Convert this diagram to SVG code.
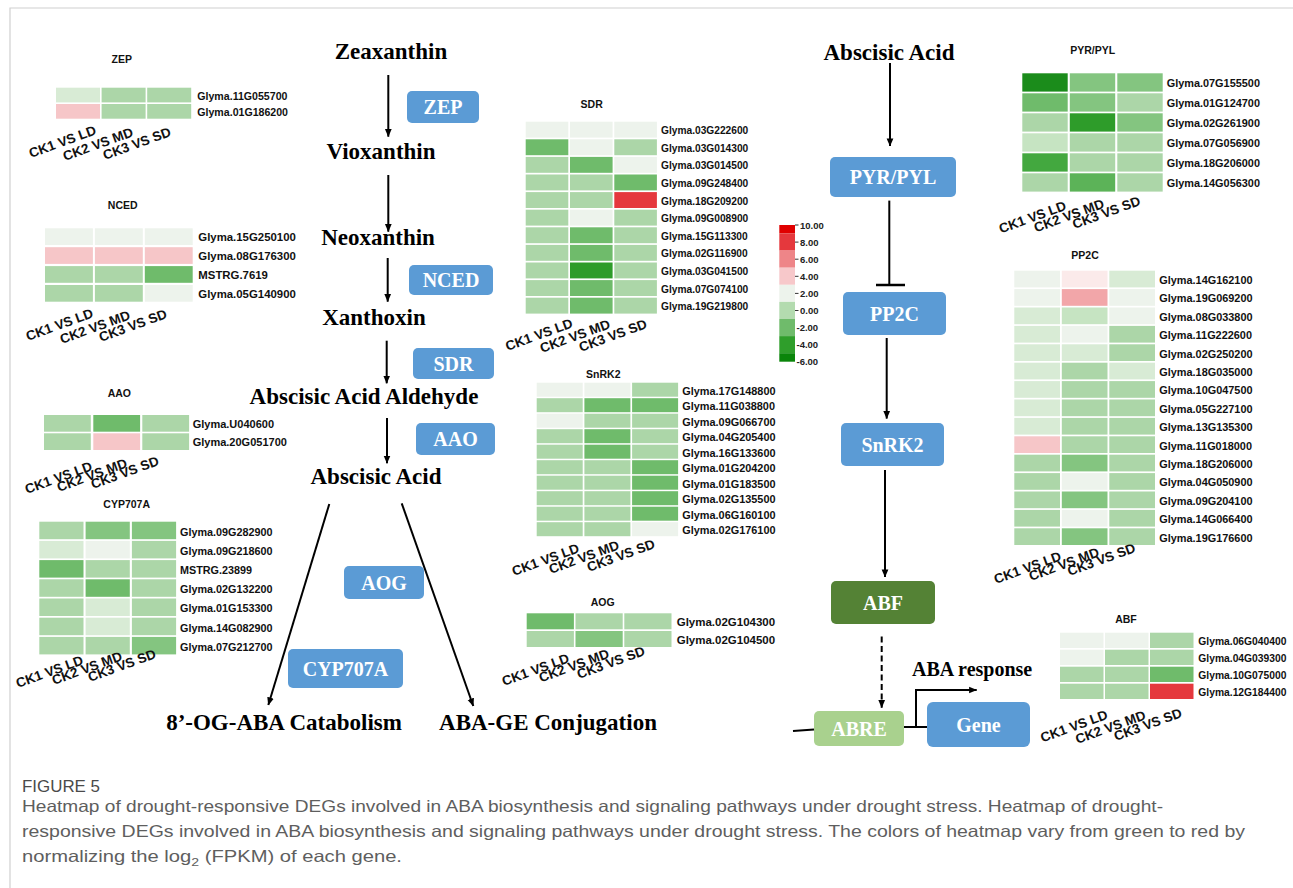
<svg xmlns="http://www.w3.org/2000/svg" width="1293" height="888" viewBox="0 0 1293 888">
<defs>
<marker id="ah" viewBox="0 0 10 10" refX="9.5" refY="5" markerWidth="8" markerHeight="8" markerUnits="userSpaceOnUse" orient="auto">
<path d="M0,0.8 L10,5 L0,9.2 z" fill="#000"/>
</marker>
<style>
.mol{font-family:"Liberation Serif","Times New Roman",serif;font-weight:bold;font-size:23px;fill:#000;text-anchor:middle}
.box{fill:#5b9bd5}
.btxt{font-family:"Liberation Serif","Times New Roman",serif;font-weight:bold;font-size:20px;fill:#fff;text-anchor:middle}
.ttl{font-family:"Liberation Sans",Arial,sans-serif;font-weight:bold;font-size:10.5px;fill:#111;text-anchor:middle}
.gn{font-family:"Liberation Sans",Arial,sans-serif;font-weight:bold;fill:#111}
.cl{font-family:"Liberation Sans",Arial,sans-serif;font-weight:bold;font-size:13.5px;fill:#111}
.cb{font-family:"Liberation Sans",Arial,sans-serif;font-weight:bold;font-size:9.5px;fill:#222}
.cap{font-family:"Liberation Sans",Arial,sans-serif;font-size:16.5px;fill:#5e5e5e}
.c0{fill:#edf3ec}.c1{fill:#d8ebd5}.c15{fill:#c6e4c2}.c2{fill:#acd6a8}.c3{fill:#84c580}.c4{fill:#6fbb6b}.c45{fill:#5cb358}.c5{fill:#43a83f}.c6{fill:#2e9c2a}.c7{fill:#1b8c1b}
.p0{fill:#fbeaea}.p1{fill:#f6c6c8}.p2{fill:#f2a6a9}.r{fill:#e5383d}
.ln{stroke:#000;stroke-width:2;fill:none}
</style>
</defs>
<rect width="1293" height="888" fill="#fff"/>
<path d="M10,888 V8 H1293" fill="none" stroke="#d0d0d0" stroke-width="1.2"/>

<!-- Left pathway molecules -->
<g id="zeaxanthin"><text class="mol" x="391" y="58.5">Zeaxanthin</text></g>
<g id="vioxanthin"><text class="mol" x="381" y="159">Vioxanthin</text></g>
<g id="neoxanthin"><text class="mol" x="378" y="245">Neoxanthin</text></g>
<g id="xanthoxin"><text class="mol" x="374" y="325">Xanthoxin</text></g>
<g id="aba-aldehyde"><text class="mol" x="364" y="404">Abscisic Acid Aldehyde</text></g>
<g id="aba-left"><text class="mol" x="376" y="484">Abscisic Acid</text></g>
<g id="catabolism"><text class="mol" x="284" y="730">8’-OG-ABA Catabolism</text></g>
<g id="conjugation"><text class="mol" x="548" y="730">ABA-GE Conjugation</text></g>

<!-- Enzyme boxes -->
<g id="box-zep"><rect class="box" x="407" y="91" width="72" height="32" rx="5"/><text class="btxt" x="443" y="114">ZEP</text></g>
<g id="box-nced"><rect class="box" x="409" y="265" width="84" height="30" rx="5"/><text class="btxt" x="451" y="287">NCED</text></g>
<g id="box-sdr"><rect class="box" x="413" y="348" width="81" height="31" rx="5"/><text class="btxt" x="453.5" y="370.5">SDR</text></g>
<g id="box-aao"><rect class="box" x="416" y="423" width="79" height="32" rx="5"/><text class="btxt" x="455.5" y="446">AAO</text></g>
<g id="box-aog"><rect class="box" x="344" y="566" width="80" height="33" rx="5"/><text class="btxt" x="384" y="589.5">AOG</text></g>
<g id="box-cyp"><rect class="box" x="288" y="649" width="115" height="39" rx="5"/><text class="btxt" x="345.5" y="675.5">CYP707A</text></g>

<!-- Right pathway -->
<g id="aba-right"><text class="mol" x="889" y="59.5">Abscisic Acid</text></g>
<g id="box-pyr"><rect class="box" x="830" y="157" width="126" height="40" rx="5"/><text class="btxt" x="893" y="184">PYR/PYL</text></g>
<g id="box-pp2c"><rect class="box" x="843" y="292" width="103" height="43" rx="5"/><text class="btxt" x="894.5" y="320.5">PP2C</text></g>
<g id="box-snrk2"><rect class="box" x="841" y="423" width="103" height="43" rx="5"/><text class="btxt" x="892.5" y="451.5">SnRK2</text></g>
<g id="box-abf"><rect x="831" y="581" width="104" height="43" rx="5" fill="#548235"/><text class="btxt" x="883" y="609.5">ABF</text></g>
<g id="box-abre"><rect x="814" y="711" width="90" height="35" rx="5" fill="#a9d18e"/><text class="btxt" x="859" y="735.5">ABRE</text></g>
<g id="box-gene"><rect class="box" x="927" y="702" width="103" height="45" rx="6"/><text class="btxt" x="978.5" y="731.5">Gene</text></g>
<g id="aba-response"><text class="mol" x="912" y="676" style="text-anchor:start;font-size:20px">ABA response</text></g>

<!-- Connectors -->
<g id="connectors">
<line class="ln" x1="388.3" y1="75" x2="388.3" y2="136.7" marker-end="url(#ah)"/>
<line class="ln" x1="388.3" y1="175" x2="388.3" y2="231.7" marker-end="url(#ah)"/>
<line class="ln" x1="387.7" y1="258" x2="387.7" y2="301.7" marker-end="url(#ah)"/>
<line class="ln" x1="386.7" y1="340.7" x2="386.7" y2="383.3" marker-end="url(#ah)"/>
<line class="ln" x1="387" y1="418" x2="387" y2="463.3" marker-end="url(#ah)"/>
<line class="ln" x1="329.3" y1="504" x2="268.3" y2="705" marker-end="url(#ah)"/>
<line class="ln" x1="401.7" y1="503.3" x2="473.3" y2="706" marker-end="url(#ah)"/>
<line class="ln" x1="890" y1="63" x2="890" y2="146" marker-end="url(#ah)"/>
<line class="ln" x1="889.3" y1="200.6" x2="889.3" y2="285"/>
<line class="ln" x1="876" y1="285" x2="905" y2="285" style="stroke-width:2.5"/>
<line class="ln" x1="886.7" y1="338" x2="886.7" y2="418.6" marker-end="url(#ah)"/>
<line class="ln" x1="885" y1="470" x2="885" y2="577" marker-end="url(#ah)"/>
<line class="ln" x1="881.7" y1="636.6" x2="881.7" y2="707.7" stroke-dasharray="6,3.5" marker-end="url(#ah)"/>
<line class="ln" x1="793" y1="731" x2="814" y2="729.5"/>
<line class="ln" x1="904" y1="727" x2="927" y2="727"/>
<path class="ln" d="M916,727 V690 H976.7" marker-end="url(#ah)"/>
</g>

<!-- Color scale -->
<g id="colorbar">
<rect x="779.3" y="225" width="15.7" height="8.5" fill="#e00000"/>
<rect x="779.3" y="233.5" width="15.7" height="17.1" fill="#e5383d"/>
<rect x="779.3" y="250.6" width="15.7" height="17.1" fill="#ee8588"/>
<rect x="779.3" y="267.7" width="15.7" height="17.1" fill="#f7c8ca"/>
<rect x="779.3" y="284.8" width="15.7" height="17.1" fill="#edf3ec"/>
<rect x="779.3" y="301.9" width="15.7" height="17.1" fill="#b3dbaf"/>
<rect x="779.3" y="319" width="15.7" height="17.1" fill="#6fbb6b"/>
<rect x="779.3" y="336.1" width="15.7" height="17.1" fill="#2f9e2b"/>
<rect x="779.3" y="353.2" width="15.7" height="8.5" fill="#0a850a"/>
<path d="M795,225h3.5M795,242.1h3.5M795,259.2h3.5M795,276.3h3.5M795,293.4h3.5M795,310.5h3.5" stroke="#333" stroke-width="1"/>
<text class="cb" x="800" y="228.5">10.00</text>
<text class="cb" x="800" y="245.6">8.00</text>
<text class="cb" x="800" y="262.7">6.00</text>
<text class="cb" x="800" y="279.8">4.00</text>
<text class="cb" x="800" y="296.9">2.00</text>
<text class="cb" x="800" y="314">0.00</text>
<text class="cb" x="796.5" y="331">-2.00</text>
<text class="cb" x="796.5" y="348.1">-4.00</text>
<text class="cb" x="796.5" y="365.2">-6.00</text>
</g>

<!-- ZEP heatmap -->
<g id="hm-zep">
<text class="ttl" x="121.7" y="62.7">ZEP</text>
<rect class="c1" x="56" y="87.7" width="44" height="14.7"/><rect class="c2" x="101.6" y="87.7" width="44" height="14.7"/><rect class="c2" x="147.2" y="87.7" width="44" height="14.7"/>
<rect class="p1" x="56" y="104" width="44" height="14.7"/><rect class="c2" x="101.6" y="104" width="44" height="14.7"/><rect class="c2" x="147.2" y="104" width="44" height="14.7"/>
<g class="gn" font-size="10.6"><text x="197.3" y="99.5">Glyma.11G055700</text><text x="197.3" y="115.8">Glyma.01G186200</text></g>
<text class="cl" transform="translate(31,158) rotate(-20)">CK1 VS LD</text>
<text class="cl" transform="translate(65,161) rotate(-20)">CK2 VS MD</text>
<text class="cl" transform="translate(105,160) rotate(-20)">CK3 VS SD</text>
</g>

<!-- NCED heatmap -->
<g id="hm-nced">
<text class="ttl" x="122.7" y="209.4">NCED</text>
<rect class="c0" x="45" y="228.3" width="47.9" height="16.7"/><rect class="c0" x="94.9" y="228.3" width="47.9" height="16.7"/><rect class="c0" x="144.8" y="228.3" width="47.9" height="16.7"/>
<rect class="p1" x="45" y="247.2" width="47.9" height="16.7"/><rect class="p1" x="94.9" y="247.2" width="47.9" height="16.7"/><rect class="p1" x="144.8" y="247.2" width="47.9" height="16.7"/>
<rect class="c2" x="45" y="266.1" width="47.9" height="16.7"/><rect class="c2" x="94.9" y="266.1" width="47.9" height="16.7"/><rect class="c4" x="144.8" y="266.1" width="47.9" height="16.7"/>
<rect class="c2" x="45" y="285" width="47.9" height="16.7"/><rect class="c2" x="94.9" y="285" width="47.9" height="16.7"/><rect class="c0" x="144.8" y="285" width="47.9" height="16.7"/>
<g class="gn" font-size="11.4"><text x="198.3" y="241.3">Glyma.15G250100</text><text x="198.3" y="260.2">Glyma.08G176300</text><text x="198.3" y="279.1">MSTRG.7619</text><text x="198.3" y="298">Glyma.05G140900</text></g>
<text class="cl" transform="translate(28,341) rotate(-20)">CK1 VS LD</text>
<text class="cl" transform="translate(62,344) rotate(-20)">CK2 VS MD</text>
<text class="cl" transform="translate(101,342) rotate(-20)">CK3 VS SD</text>
</g>

<!-- AAO heatmap -->
<g id="hm-aao">
<text class="ttl" x="119.3" y="397">AAO</text>
<rect class="c2" x="44" y="415" width="46.8" height="16.7"/><rect class="c4" x="93.3" y="415" width="46.8" height="16.7"/><rect class="c2" x="142.3" y="415" width="46.8" height="16.7"/>
<rect class="c2" x="44" y="433.3" width="46.8" height="16.7"/><rect class="p1" x="93.3" y="433.3" width="46.8" height="16.7"/><rect class="c2" x="142.3" y="433.3" width="46.8" height="16.7"/>
<g class="gn" font-size="11"><text x="192.7" y="427.8">Glyma.U040600</text><text x="192.7" y="446">Glyma.20G051700</text></g>
<text class="cl" transform="translate(27,494) rotate(-20)">CK1 VS LD</text>
<text class="cl" transform="translate(59,492) rotate(-20)">CK2 VS MD</text>
<text class="cl" transform="translate(93,489) rotate(-20)">CK3 VS SD</text>
</g>

<!-- CYP707A heatmap -->
<g id="hm-cyp707a">
<text class="ttl" x="126.7" y="507.7">CYP707A</text>
<rect class="c2" x="39.3" y="521.7" width="44.2" height="17.5"/><rect class="c3" x="85.6" y="521.7" width="44.2" height="17.5"/><rect class="c3" x="131.9" y="521.7" width="44.2" height="17.5"/>
<rect class="c1" x="39.3" y="540.9" width="44.2" height="17.5"/><rect class="c0" x="85.6" y="540.9" width="44.2" height="17.5"/><rect class="c2" x="131.9" y="540.9" width="44.2" height="17.5"/>
<rect class="c4" x="39.3" y="560.1" width="44.2" height="17.5"/><rect class="c2" x="85.6" y="560.1" width="44.2" height="17.5"/><rect class="c2" x="131.9" y="560.1" width="44.2" height="17.5"/>
<rect class="c2" x="39.3" y="579.3" width="44.2" height="17.5"/><rect class="c4" x="85.6" y="579.3" width="44.2" height="17.5"/><rect class="c2" x="131.9" y="579.3" width="44.2" height="17.5"/>
<rect class="c2" x="39.3" y="598.5" width="44.2" height="17.5"/><rect class="c1" x="85.6" y="598.5" width="44.2" height="17.5"/><rect class="c2" x="131.9" y="598.5" width="44.2" height="17.5"/>
<rect class="c2" x="39.3" y="617.7" width="44.2" height="17.5"/><rect class="c1" x="85.6" y="617.7" width="44.2" height="17.5"/><rect class="c2" x="131.9" y="617.7" width="44.2" height="17.5"/>
<rect class="c2" x="39.3" y="636.9" width="44.2" height="17.5"/><rect class="c2" x="85.6" y="636.9" width="44.2" height="17.5"/><rect class="c3" x="131.9" y="636.9" width="44.2" height="17.5"/>
<g class="gn" font-size="10.8"><text x="180" y="535.5">Glyma.09G282900</text><text x="180" y="554.7">Glyma.09G218600</text><text x="180" y="573.9">MSTRG.23899</text><text x="180" y="593.1">Glyma.02G132200</text><text x="180" y="612.3">Glyma.01G153300</text><text x="180" y="631.5">Glyma.14G082900</text><text x="180" y="650.7">Glyma.07G212700</text></g>
<text class="cl" transform="translate(18,688) rotate(-20)">CK1 VS LD</text>
<text class="cl" transform="translate(54,685) rotate(-20)">CK2 VS MD</text>
<text class="cl" transform="translate(90,682) rotate(-20)">CK3 VS SD</text>
</g>

<!-- SDR heatmap -->
<g id="hm-sdr">
<text class="ttl" x="591.7" y="107.7">SDR</text>
<rect class="c0" x="525.7" y="121.7" width="42.6" height="15.9"/><rect class="c0" x="570" y="121.7" width="42.6" height="15.9"/><rect class="c0" x="614.3" y="121.7" width="42.6" height="15.9"/>
<rect class="c4" x="525.7" y="139.3" width="42.6" height="15.9"/><rect class="c0" x="570" y="139.3" width="42.6" height="15.9"/><rect class="c2" x="614.3" y="139.3" width="42.6" height="15.9"/>
<rect class="c2" x="525.7" y="156.9" width="42.6" height="15.9"/><rect class="c4" x="570" y="156.9" width="42.6" height="15.9"/><rect class="c0" x="614.3" y="156.9" width="42.6" height="15.9"/>
<rect class="c2" x="525.7" y="174.5" width="42.6" height="15.9"/><rect class="c2" x="570" y="174.5" width="42.6" height="15.9"/><rect class="c4" x="614.3" y="174.5" width="42.6" height="15.9"/>
<rect class="c2" x="525.7" y="192.1" width="42.6" height="15.9"/><rect class="c2" x="570" y="192.1" width="42.6" height="15.9"/><rect class="r" x="614.3" y="192.1" width="42.6" height="15.9"/>
<rect class="c2" x="525.7" y="209.7" width="42.6" height="15.9"/><rect class="c0" x="570" y="209.7" width="42.6" height="15.9"/><rect class="c2" x="614.3" y="209.7" width="42.6" height="15.9"/>
<rect class="c2" x="525.7" y="227.3" width="42.6" height="15.9"/><rect class="c4" x="570" y="227.3" width="42.6" height="15.9"/><rect class="c2" x="614.3" y="227.3" width="42.6" height="15.9"/>
<rect class="c2" x="525.7" y="244.9" width="42.6" height="15.9"/><rect class="c4" x="570" y="244.9" width="42.6" height="15.9"/><rect class="c2" x="614.3" y="244.9" width="42.6" height="15.9"/>
<rect class="c2" x="525.7" y="262.5" width="42.6" height="15.9"/><rect class="c6" x="570" y="262.5" width="42.6" height="15.9"/><rect class="c2" x="614.3" y="262.5" width="42.6" height="15.9"/>
<rect class="c2" x="525.7" y="280.1" width="42.6" height="15.9"/><rect class="c4" x="570" y="280.1" width="42.6" height="15.9"/><rect class="c2" x="614.3" y="280.1" width="42.6" height="15.9"/>
<rect class="c2" x="525.7" y="297.7" width="42.6" height="15.9"/><rect class="c4" x="570" y="297.7" width="42.6" height="15.9"/><rect class="c2" x="614.3" y="297.7" width="42.6" height="15.9"/>
<g class="gn" font-size="10.2"><text x="661" y="134.2">Glyma.03G222600</text><text x="661" y="151.8">Glyma.03G014300</text><text x="661" y="169.4">Glyma.03G014500</text><text x="661" y="187">Glyma.09G248400</text><text x="661" y="204.6">Glyma.18G209200</text><text x="661" y="222.2">Glyma.09G008900</text><text x="661" y="239.8">Glyma.15G113300</text><text x="661" y="257.4">Glyma.02G116900</text><text x="661" y="275">Glyma.03G041500</text><text x="661" y="292.6">Glyma.07G074100</text><text x="661" y="310.2">Glyma.19G219800</text></g>
<text class="cl" transform="translate(507.5,351) rotate(-20)">CK1 VS LD</text>
<text class="cl" transform="translate(542,353) rotate(-20)">CK2 VS MD</text>
<text class="cl" transform="translate(581,352) rotate(-20)">CK3 VS SD</text>
</g>

<!-- SnRK2 heatmap -->
<g id="hm-snrk2">
<text class="ttl" x="603.3" y="377.7">SnRK2</text>
<rect class="c0" x="536.7" y="382.7" width="46" height="14"/><rect class="c0" x="584.4" y="382.7" width="46" height="14"/><rect class="c2" x="632.1" y="382.7" width="46" height="14"/>
<rect class="c2" x="536.7" y="398.2" width="46" height="14"/><rect class="c4" x="584.4" y="398.2" width="46" height="14"/><rect class="c4" x="632.1" y="398.2" width="46" height="14"/>
<rect class="c0" x="536.7" y="413.7" width="46" height="14"/><rect class="c2" x="584.4" y="413.7" width="46" height="14"/><rect class="c2" x="632.1" y="413.7" width="46" height="14"/>
<rect class="c2" x="536.7" y="429.2" width="46" height="14"/><rect class="c4" x="584.4" y="429.2" width="46" height="14"/><rect class="c2" x="632.1" y="429.2" width="46" height="14"/>
<rect class="c2" x="536.7" y="444.7" width="46" height="14"/><rect class="c4" x="584.4" y="444.7" width="46" height="14"/><rect class="c2" x="632.1" y="444.7" width="46" height="14"/>
<rect class="c2" x="536.7" y="460.2" width="46" height="14"/><rect class="c2" x="584.4" y="460.2" width="46" height="14"/><rect class="c4" x="632.1" y="460.2" width="46" height="14"/>
<rect class="c2" x="536.7" y="475.7" width="46" height="14"/><rect class="c2" x="584.4" y="475.7" width="46" height="14"/><rect class="c4" x="632.1" y="475.7" width="46" height="14"/>
<rect class="c2" x="536.7" y="491.2" width="46" height="14"/><rect class="c2" x="584.4" y="491.2" width="46" height="14"/><rect class="c4" x="632.1" y="491.2" width="46" height="14"/>
<rect class="c2" x="536.7" y="506.7" width="46" height="14"/><rect class="c2" x="584.4" y="506.7" width="46" height="14"/><rect class="c4" x="632.1" y="506.7" width="46" height="14"/>
<rect class="c2" x="536.7" y="522.2" width="46" height="14"/><rect class="c2" x="584.4" y="522.2" width="46" height="14"/><rect class="c0" x="632.1" y="522.2" width="46" height="14"/>
<g class="gn" font-size="10.9"><text x="682.3" y="394.7">Glyma.17G148800</text><text x="682.3" y="410.2">Glyma.11G038800</text><text x="682.3" y="425.7">Glyma.09G066700</text><text x="682.3" y="441.2">Glyma.04G205400</text><text x="682.3" y="456.7">Glyma.16G133600</text><text x="682.3" y="472.2">Glyma.01G204200</text><text x="682.3" y="487.7">Glyma.01G183500</text><text x="682.3" y="503.2">Glyma.02G135500</text><text x="682.3" y="518.7">Glyma.06G160100</text><text x="682.3" y="534.2">Glyma.02G176100</text></g>
<text class="cl" transform="translate(514,576) rotate(-20)">CK1 VS LD</text>
<text class="cl" transform="translate(551,574) rotate(-20)">CK2 VS MD</text>
<text class="cl" transform="translate(589,572) rotate(-20)">CK3 VS SD</text>
</g>

<!-- AOG heatmap -->
<g id="hm-aog">
<text class="ttl" x="602.7" y="606.4">AOG</text>
<rect class="c4" x="526.7" y="613.3" width="47.2" height="16"/><rect class="c2" x="575.5" y="613.3" width="47.2" height="16"/><rect class="c2" x="624.3" y="613.3" width="47.2" height="16"/>
<rect class="c2" x="526.7" y="631" width="47.2" height="16"/><rect class="c3" x="575.5" y="631" width="47.2" height="16"/><rect class="c2" x="624.3" y="631" width="47.2" height="16"/>
<g class="gn" font-size="11.5"><text x="676.7" y="626.3">Glyma.02G104300</text><text x="676.7" y="644">Glyma.02G104500</text></g>
<text class="cl" transform="translate(504,686) rotate(-20)">CK1 VS LD</text>
<text class="cl" transform="translate(541,682.5) rotate(-20)">CK2 VS MD</text>
<text class="cl" transform="translate(579,679) rotate(-20)">CK3 VS SD</text>
</g>

<!-- PYR/PYL heatmap -->
<g id="hm-pyr">
<text class="ttl" x="1092.7" y="53.7">PYR/PYL</text>
<rect class="c7" x="1022.3" y="73.3" width="45.4" height="18.3"/><rect class="c3" x="1069.8" y="73.3" width="45.4" height="18.3"/><rect class="c3" x="1117.3" y="73.3" width="45.4" height="18.3"/>
<rect class="c4" x="1022.3" y="93.3" width="45.4" height="18.3"/><rect class="c3" x="1069.8" y="93.3" width="45.4" height="18.3"/><rect class="c2" x="1117.3" y="93.3" width="45.4" height="18.3"/>
<rect class="c2" x="1022.3" y="113.3" width="45.4" height="18.3"/><rect class="c6" x="1069.8" y="113.3" width="45.4" height="18.3"/><rect class="c3" x="1117.3" y="113.3" width="45.4" height="18.3"/>
<rect class="c15" x="1022.3" y="133.3" width="45.4" height="18.3"/><rect class="c2" x="1069.8" y="133.3" width="45.4" height="18.3"/><rect class="c2" x="1117.3" y="133.3" width="45.4" height="18.3"/>
<rect class="c5" x="1022.3" y="153.3" width="45.4" height="18.3"/><rect class="c2" x="1069.8" y="153.3" width="45.4" height="18.3"/><rect class="c2" x="1117.3" y="153.3" width="45.4" height="18.3"/>
<rect class="c2" x="1022.3" y="173.3" width="45.4" height="18.3"/><rect class="c45" x="1069.8" y="173.3" width="45.4" height="18.3"/><rect class="c2" x="1117.3" y="173.3" width="45.4" height="18.3"/>
<g class="gn" font-size="10.9"><text x="1166.7" y="87.3">Glyma.07G155500</text><text x="1166.7" y="107.3">Glyma.01G124700</text><text x="1166.7" y="127.3">Glyma.02G261900</text><text x="1166.7" y="147.3">Glyma.07G056900</text><text x="1166.7" y="167.3">Glyma.18G206000</text><text x="1166.7" y="187.3">Glyma.14G056300</text></g>
<text class="cl" transform="translate(1001,233.5) rotate(-20)">CK1 VS LD</text>
<text class="cl" transform="translate(1036,232.5) rotate(-20)">CK2 VS MD</text>
<text class="cl" transform="translate(1074.5,229) rotate(-20)">CK3 VS SD</text>
</g>

<!-- PP2C heatmap -->
<g id="hm-pp2c">
<text class="ttl" x="1085" y="258.7">PP2C</text>
<rect class="c0" x="1014.3" y="270.7" width="45.7" height="16.7"/><rect class="p0" x="1061.8" y="270.7" width="45.7" height="16.7"/><rect class="c1" x="1109.3" y="270.7" width="45.7" height="16.7"/>
<rect class="c0" x="1014.3" y="289.1" width="45.7" height="16.7"/><rect class="p2" x="1061.8" y="289.1" width="45.7" height="16.7"/><rect class="c0" x="1109.3" y="289.1" width="45.7" height="16.7"/>
<rect class="c1" x="1014.3" y="307.5" width="45.7" height="16.7"/><rect class="c15" x="1061.8" y="307.5" width="45.7" height="16.7"/><rect class="c0" x="1109.3" y="307.5" width="45.7" height="16.7"/>
<rect class="c1" x="1014.3" y="325.9" width="45.7" height="16.7"/><rect class="c0" x="1061.8" y="325.9" width="45.7" height="16.7"/><rect class="c2" x="1109.3" y="325.9" width="45.7" height="16.7"/>
<rect class="c1" x="1014.3" y="344.3" width="45.7" height="16.7"/><rect class="c1" x="1061.8" y="344.3" width="45.7" height="16.7"/><rect class="c2" x="1109.3" y="344.3" width="45.7" height="16.7"/>
<rect class="c1" x="1014.3" y="362.7" width="45.7" height="16.7"/><rect class="c2" x="1061.8" y="362.7" width="45.7" height="16.7"/><rect class="c1" x="1109.3" y="362.7" width="45.7" height="16.7"/>
<rect class="c1" x="1014.3" y="381.1" width="45.7" height="16.7"/><rect class="c2" x="1061.8" y="381.1" width="45.7" height="16.7"/><rect class="c2" x="1109.3" y="381.1" width="45.7" height="16.7"/>
<rect class="c1" x="1014.3" y="399.5" width="45.7" height="16.7"/><rect class="c2" x="1061.8" y="399.5" width="45.7" height="16.7"/><rect class="c2" x="1109.3" y="399.5" width="45.7" height="16.7"/>
<rect class="c1" x="1014.3" y="417.9" width="45.7" height="16.7"/><rect class="c2" x="1061.8" y="417.9" width="45.7" height="16.7"/><rect class="c2" x="1109.3" y="417.9" width="45.7" height="16.7"/>
<rect class="p1" x="1014.3" y="436.3" width="45.7" height="16.7"/><rect class="c2" x="1061.8" y="436.3" width="45.7" height="16.7"/><rect class="c2" x="1109.3" y="436.3" width="45.7" height="16.7"/>
<rect class="c2" x="1014.3" y="454.7" width="45.7" height="16.7"/><rect class="c3" x="1061.8" y="454.7" width="45.7" height="16.7"/><rect class="c2" x="1109.3" y="454.7" width="45.7" height="16.7"/>
<rect class="c2" x="1014.3" y="473.1" width="45.7" height="16.7"/><rect class="c0" x="1061.8" y="473.1" width="45.7" height="16.7"/><rect class="c2" x="1109.3" y="473.1" width="45.7" height="16.7"/>
<rect class="c2" x="1014.3" y="491.5" width="45.7" height="16.7"/><rect class="c3" x="1061.8" y="491.5" width="45.7" height="16.7"/><rect class="c2" x="1109.3" y="491.5" width="45.7" height="16.7"/>
<rect class="c2" x="1014.3" y="509.9" width="45.7" height="16.7"/><rect class="c0" x="1061.8" y="509.9" width="45.7" height="16.7"/><rect class="c2" x="1109.3" y="509.9" width="45.7" height="16.7"/>
<rect class="c2" x="1014.3" y="528.3" width="45.7" height="16.7"/><rect class="c3" x="1061.8" y="528.3" width="45.7" height="16.7"/><rect class="c2" x="1109.3" y="528.3" width="45.7" height="16.7"/>
<g class="gn" font-size="10.9"><text x="1159.3" y="284">Glyma.14G162100</text><text x="1159.3" y="302.4">Glyma.19G069200</text><text x="1159.3" y="320.8">Glyma.08G033800</text><text x="1159.3" y="339.2">Glyma.11G222600</text><text x="1159.3" y="357.6">Glyma.02G250200</text><text x="1159.3" y="376">Glyma.18G035000</text><text x="1159.3" y="394.4">Glyma.10G047500</text><text x="1159.3" y="412.8">Glyma.05G227100</text><text x="1159.3" y="431.2">Glyma.13G135300</text><text x="1159.3" y="449.6">Glyma.11G018000</text><text x="1159.3" y="468">Glyma.18G206000</text><text x="1159.3" y="486.4">Glyma.04G050900</text><text x="1159.3" y="504.8">Glyma.09G204100</text><text x="1159.3" y="523.2">Glyma.14G066400</text><text x="1159.3" y="541.6">Glyma.19G176600</text></g>
<text class="cl" transform="translate(996,584) rotate(-20)">CK1 VS LD</text>
<text class="cl" transform="translate(1031,581) rotate(-20)">CK2 VS MD</text>
<text class="cl" transform="translate(1069.5,576) rotate(-20)">CK3 VS SD</text>
</g>

<!-- ABF heatmap -->
<g id="hm-abf">
<text class="ttl" x="1126" y="623">ABF</text>
<rect class="c0" x="1060" y="632.7" width="43.5" height="15.3"/><rect class="c0" x="1105" y="632.7" width="43.5" height="15.3"/><rect class="c2" x="1150" y="632.7" width="43.5" height="15.3"/>
<rect class="c0" x="1060" y="649.7" width="43.5" height="15.3"/><rect class="c2" x="1105" y="649.7" width="43.5" height="15.3"/><rect class="c2" x="1150" y="649.7" width="43.5" height="15.3"/>
<rect class="c2" x="1060" y="666.7" width="43.5" height="15.3"/><rect class="c2" x="1105" y="666.7" width="43.5" height="15.3"/><rect class="c4" x="1150" y="666.7" width="43.5" height="15.3"/>
<rect class="c2" x="1060" y="683.7" width="43.5" height="15.3"/><rect class="c2" x="1105" y="683.7" width="43.5" height="15.3"/><rect class="r" x="1150" y="683.7" width="43.5" height="15.3"/>
<g class="gn" font-size="10.3"><text x="1198.3" y="645.2">Glyma.06G040400</text><text x="1198.3" y="662.2">Glyma.04G039300</text><text x="1198.3" y="679.2">Glyma.10G075000</text><text x="1198.3" y="696.2">Glyma.12G184400</text></g>
<text class="cl" transform="translate(1042.5,742.5) rotate(-20)">CK1 VS LD</text>
<text class="cl" transform="translate(1077.5,744) rotate(-20)">CK2 VS MD</text>
<text class="cl" transform="translate(1116,741) rotate(-20)">CK3 VS SD</text>
</g>

<!-- Caption -->
<g id="caption">
<text class="cap" x="22" y="792" style="fill:#4a4a4a;font-size:16px" textLength="78" lengthAdjust="spacingAndGlyphs">FIGURE 5</text>
<text class="cap" x="22" y="812" textLength="1141" lengthAdjust="spacingAndGlyphs">Heatmap of drought-responsive DEGs involved in ABA biosynthesis and signaling pathways under drought stress. Heatmap of drought-</text>
<text class="cap" x="22" y="837" textLength="1223" lengthAdjust="spacingAndGlyphs">responsive DEGs involved in ABA biosynthesis and signaling pathways under drought stress. The colors of heatmap vary from green to red by</text>
<text class="cap" x="22" y="862" textLength="380" lengthAdjust="spacingAndGlyphs">normalizing the log<tspan font-size="11.5" dy="4">2</tspan><tspan dy="-4"> (FPKM) of each gene.</tspan></text>
</g>
</svg>
